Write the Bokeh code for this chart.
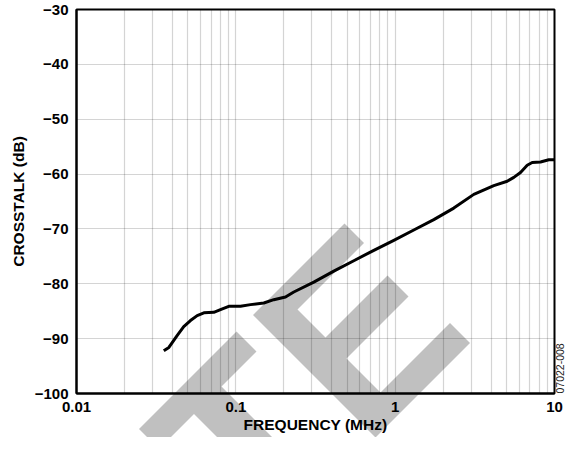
from math import pi
from urllib.parse import quote
from bokeh.plotting import figure
from bokeh.models import Range1d, FixedTicker, CustomJSTickFormatter, LinearAxis
from bokeh.embed import file_html
from bokeh.resources import INLINE

# ---- data ----
freq_mhz = [0.0353, 0.038, 0.0429, 0.0471, 0.0519, 0.0572, 0.063, 0.0727, 0.0801,
            0.0903, 0.107, 0.1236, 0.1498, 0.1731, 0.205, 0.2311, 0.3086, 0.412,
            0.55, 0.7345, 0.9806, 1.309, 1.748, 2.333, 3.116, 4.159, 5.05, 5.555,
            6.12, 6.74, 7.244, 8.17, 9.21, 10.0]
crosstalk_db = [-92.2, -91.6, -89.4, -87.8, -86.7, -85.8, -85.3, -85.2, -84.7,
                -84.1, -84.1, -83.8, -83.5, -82.9, -82.4, -81.5, -79.7, -77.7,
                -75.8, -73.9, -72.1, -70.2, -68.3, -66.2, -63.7, -62.1, -61.3, -60.6,
                -59.7, -58.4, -57.9, -57.8, -57.4, -57.4]

x_major_ticks = [0.01, 0.1, 1, 10]
x_minor_ticks = [m * d for d in (0.01, 0.1, 1) for m in range(2, 10)]
y_ticks = [-100, -90, -80, -70, -60, -50, -40, -30]
x_title = "FREQUENCY (MHz)"
y_title = "CROSSTALK (dB)"
fig_code = "07022-008"

# watermark letters ("...TE"), in rotated page coordinates u = x - y, v = x + y
wm_prev_u = [-600, -323, -323, -600]
wm_prev_v = [568, 568, 608, 608]
wm_T_u = [-290, -95, -95, -165, -165, -220, -220, -290]
wm_T_v = [568, 568, 608, 608, 813, 813, 608, 608]
wm_E_u = [-62, 121, 121, -12, -12, 112, 112, -12, -12, 127, 127, -62]
wm_E_v = [568, 568, 607, 607, 663, 663, 705, 705, 773, 773, 813, 813]

FONT = "Liberation Sans"
W, H = 571, 437

p = figure(width=W, height=H, x_axis_type="log",
           x_range=Range1d(0.01, 10), y_range=Range1d(-100, -30),
           output_backend="svg", toolbar_location=None,
           min_border_left=76, min_border_right=17, min_border_top=9,
           min_border_bottom=44)
p.background_fill_alpha = 0
p.border_fill_alpha = 0
p.outline_line_color = "black"
p.outline_line_width = 2

# watermark: a background decoration behind the (transparent) canvas
def poly_points(us, vs):
    return " ".join(f"{(u + v) / 2:.1f},{(v - u) / 2:.1f}" for u, v in zip(us, vs))

polys = "".join(
    f'<polygon points="{poly_points(us, vs)}" fill="#c0c0c0"/>'
    for us, vs in ((wm_prev_u, wm_prev_v), (wm_T_u, wm_T_v), (wm_E_u, wm_E_v)))
wm_svg = (f'<svg xmlns="http://www.w3.org/2000/svg" width="{W}" height="{H}" '
          f'viewBox="0 0 {W} {H}">{polys}</svg>')
p.styles = {
    "background-color": "white",
    "background-image": f'url("data:image/svg+xml,{quote(wm_svg)}")',
    "background-repeat": "no-repeat",
    "background-position": "0 0",
}

p.xaxis.ticker = FixedTicker(ticks=x_major_ticks, minor_ticks=x_minor_ticks)
p.xaxis.formatter = CustomJSTickFormatter(code="return tick.toString();")
p.yaxis.ticker = FixedTicker(ticks=y_ticks)
p.yaxis.formatter = CustomJSTickFormatter(
    code="return (tick < 0 ? '\u2212' : '') + Math.abs(tick).toFixed(0);")

for ax in (p.xaxis, p.yaxis):
    ax.axis_line_color = "black"
    ax.axis_line_width = 2
    ax.major_tick_out = 0
    ax.major_tick_in = 0
    ax.minor_tick_out = 0
    ax.minor_tick_in = 0
    ax.major_label_text_font = FONT
    ax.major_label_text_font_style = "bold"
    ax.major_label_text_font_size = "15px"
    ax.major_label_text_color = "black"
    ax.axis_label_text_font = FONT
    ax.axis_label_text_font_style = "bold"
    ax.axis_label_text_font_size = "15.5px"
    ax.axis_label_text_color = "black"
    ax.major_label_standoff = 8

p.xaxis.axis_label = x_title
p.yaxis.axis_label = y_title
p.xaxis.axis_label_standoff = 1
p.yaxis.axis_label_standoff = 5

for g in (p.xgrid, p.ygrid):
    g.grid_line_color = "black"
    g.grid_line_alpha = 0.17
    g.grid_line_width = 1.2
p.xgrid.minor_grid_line_color = "black"
p.xgrid.minor_grid_line_alpha = 0.17
p.xgrid.minor_grid_line_width = 1.2

p.line(freq_mhz, crosstalk_db, line_color="black", line_width=3, line_join="round")

# figure code on the right edge, reading upward
rax = LinearAxis(ticker=FixedTicker(ticks=[]), axis_label=fig_code,
                 axis_line_color=None, major_tick_out=0, major_tick_in=0,
                 minor_tick_out=0, minor_tick_in=0,
                 axis_label_standoff=5,
                 axis_label_text_font=FONT, axis_label_text_font_size="10.5px",
                 axis_label_text_font_style="normal",
                 axis_label_text_color="#222222")
try:
    rax.axis_label_orientation = pi / 2
except Exception:
    pass
try:
    rax.axis_label_align = "start"
except Exception:
    pass
p.add_layout(rax, "right")

open("out.html", "w").write(file_html(p, INLINE))
